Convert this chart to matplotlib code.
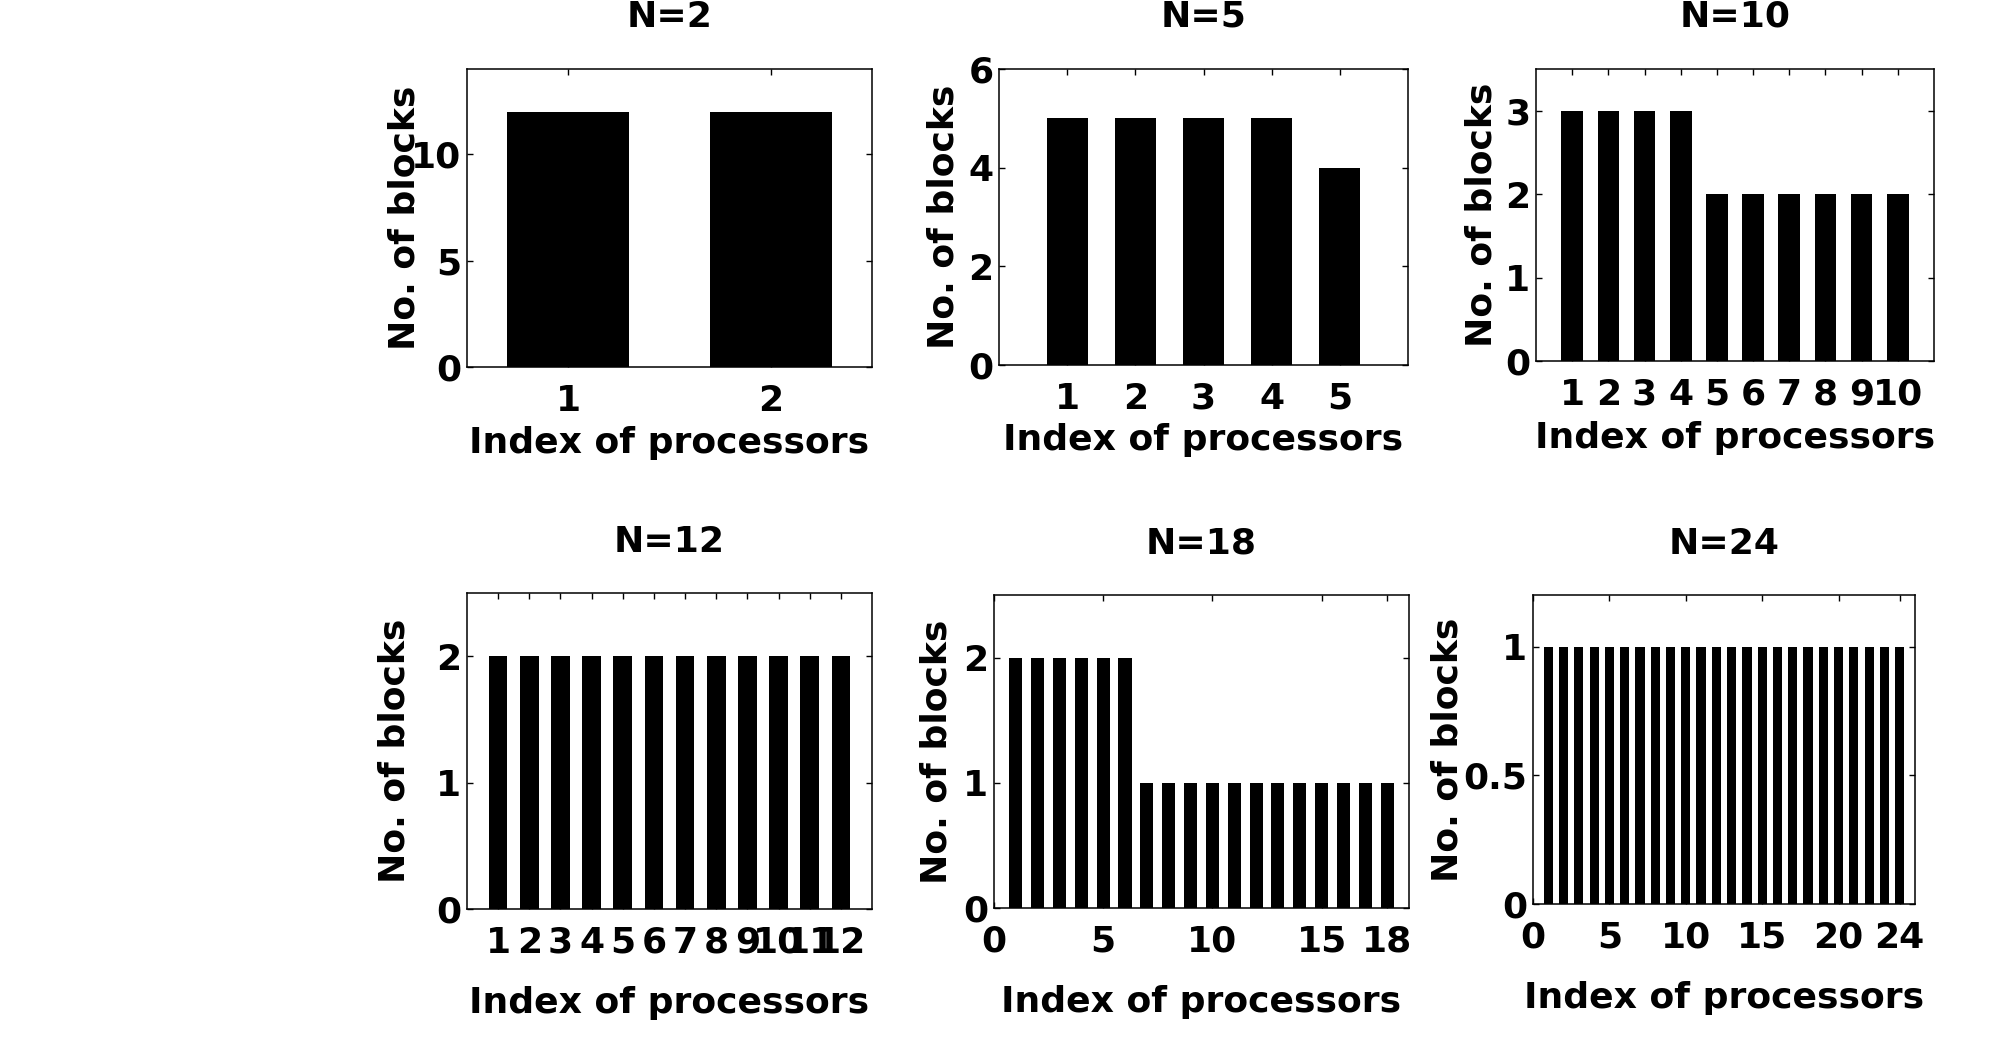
import matplotlib
matplotlib.use("Agg")
import matplotlib.pyplot as plt

plt.rcParams['font.family'] = ['DejaVu Sans']
plt.rcParams['font.weight'] = 'bold'

# ---- data ----
titles = ["N=2", "N=5", "N=10", "N=12", "N=18", "N=24"]
blocks_n2 = [12, 12]
blocks_n5 = [5, 5, 5, 5, 4]
blocks_n10 = [3, 3, 3, 3, 2, 2, 2, 2, 2, 2]
blocks_n12 = [2, 2, 2, 2, 2, 2, 2, 2, 2, 2, 2, 2]
blocks_n18 = [2, 2, 2, 2, 2, 2, 1, 1, 1, 1, 1, 1, 1, 1, 1, 1, 1, 1]
blocks_n24 = [1] * 24
yticks_list = [[0, 5, 10], [0, 2, 4, 6], [0, 1, 2, 3], [0, 1, 2], [0, 1, 2], [0, 0.5, 1]]
yticklabels_list = [["0", "5", "10"], ["0", "2", "4", "6"], ["0", "1", "2", "3"],
                    ["0", "1", "2"], ["0", "1", "2"], ["0", "0.5", "1"]]
xticks_list = [[1, 2], [1, 2, 3, 4, 5], list(range(1, 11)), list(range(1, 13)),
               [0, 5, 10, 15, 18], [0, 5, 10, 15, 20, 24]]
ylims = [(0, 14), (0, 6), (0, 3.5), (0, 2.5), (0, 2.5), (0, 1.2)]
xlims = [(0.5, 2.5), (0, 6), (0, 11), (0, 13), (0, 19), (0, 25)]
xlabel_text = "Index of processors"
ylabel_text = "No. of blocks"

series = [blocks_n2, blocks_n5, blocks_n10, blocks_n12, blocks_n18, blocks_n24]

# ---- layout (pixels in a 1990x1040 figure) ----
W, H = 1990, 1040
# left, top, right, bottom
boxes = [(467, 69, 872, 367), (999, 69, 1408, 365), (1536, 69, 1934, 361),
         (467, 593, 872, 909), (994, 595, 1409, 908), (1533, 595, 1915, 904)]
ylabel_x = [415, 953, 1492, 405, 947, 1458]
xlabel_y = [453, 450, 448, 1013, 1012, 1008]
title_y = [35, 35, 35, 560, 562, 562]

fig = plt.figure(figsize=(W / 100, H / 100), dpi=100)
fs = 26

for i, vals in enumerate(series):
    l, t, r, b = boxes[i]
    ax = fig.add_axes([l / W, 1 - b / H, (r - l) / W, (b - t) / H])
    xs = list(range(1, len(vals) + 1))
    ax.bar(xs, vals, width=0.6, color='black', edgecolor='none')
    ax.set_xlim(*xlims[i])
    ax.set_ylim(*ylims[i])
    ax.set_xticks(xticks_list[i])
    ax.set_xticklabels([str(v) for v in xticks_list[i]])
    ax.set_yticks(yticks_list[i])
    ax.set_yticklabels(yticklabels_list[i])
    ax.tick_params(direction='in', length=4, width=1.0, top=True, right=True,
                   labelsize=fs)
    ax.tick_params(axis='x', pad=12)
    ax.tick_params(axis='y', pad=4)
    for lab in ax.get_xticklabels() + ax.get_yticklabels():
        lab.set_fontweight('bold')
    for s in ax.spines.values():
        s.set_linewidth(1.1)

    ax.set_xlabel(xlabel_text, fontsize=fs, fontweight='bold')
    ax.xaxis.label.set_va('baseline')
    ax.xaxis.set_label_coords(0.5, (b - xlabel_y[i]) / (b - t))
    ax.set_ylabel(ylabel_text, fontsize=fs, fontweight='bold')
    ax.yaxis.label.set_va('baseline')
    ax.yaxis.set_label_coords((ylabel_x[i] - l) / (r - l), 0.5)
    ax.set_title(titles[i], fontsize=fs, fontweight='bold',
                 y=1 + (t - title_y[i]) / (b - t), va='baseline')

fig.savefig("out.png", dpi=100, facecolor='white')
